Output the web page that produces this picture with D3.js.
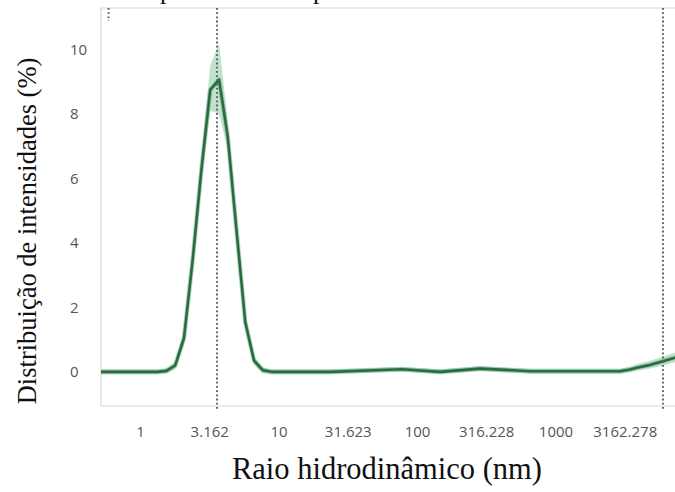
<!DOCTYPE html>
<html>
<head>
<meta charset="utf-8">
<script src="https://cdn.jsdelivr.net/npm/d3@7"></script>
<style>
  html, body { margin: 0; padding: 0; background: #fff; }
  svg { display: block; }
</style>
</head>
<body>
<svg id="chart" width="675" height="492"></svg>
<script>
// ---- data ----
const radius    = [0.52, 1.0, 1.344, 1.553, 1.797, 2.078, 2.404, 2.780, 3.215, 3.72, 4.301, 4.975, 5.753, 6.655, 7.696, 8.904, 23.5, 77.9, 146.6, 285, 655, 2090, 2923, 3451, 3875, 4654, 5873, 7295, 9000];
const intensity = [0, 0, 0, 0.03, 0.2, 1.05, 3.5, 6.3, 8.75, 9.07, 7.3, 4.4, 1.55, 0.35, 0.05, 0, 0, 0.08, 0, 0.1, 0.02, 0.02, 0.02, 0.07, 0.13, 0.2, 0.32, 0.44, 0.55];
const bandLow   = [-0.08, -0.08, -0.08, -0.06, 0.08, 0.85, 3.2, 5.9, 8.1, 8.0, 6.9, 4.1, 1.35, 0.22, -0.05, -0.08, -0.08, 0.0, -0.08, 0.02, -0.06, -0.06, -0.06, -0.02, 0.03, 0.09, 0.19, 0.3, 0.4];
const bandHigh  = [0.08, 0.08, 0.08, 0.12, 0.32, 1.25, 3.8, 6.7, 9.5, 10.2, 7.8, 4.7, 1.75, 0.48, 0.15, 0.08, 0.08, 0.16, 0.08, 0.18, 0.1, 0.1, 0.1, 0.16, 0.24, 0.33, 0.46, 0.6, 0.72];
const xTickValues = [1, 3.16228, 10, 31.6228, 100, 316.228, 1000, 3162.278];
const xTickLabels = ["1", "3.162", "10", "31.623", "100", "316.228", "1000", "3162.278"];
const yTickValues = [0, 2, 4, 6, 8, 10];
const markerRadii = [3.6, 5970];     // full-height dotted markers
const shortMarkerRadius = 0.593;      // short dotted marker at the top-left
const xTitle = "Raio hidrodinâmico (nm)";
const yTitle = "Distribuição de intensidades (%)";

// ---- layout ----
const svg = d3.select("#chart");
const pLeft = 101, pTop = 8, pBottom = 406, rightRange = 694;

const x = d3.scaleLog().domain([0.523, 10000]).range([pLeft, rightRange]);
const y = d3.scaleLinear().domain([-1.06, 11.29]).range([pBottom, pTop]);

// clip
svg.append("defs").append("clipPath").attr("id", "plotClip")
  .append("rect").attr("x", pLeft).attr("y", pTop).attr("width", 700).attr("height", pBottom - pTop);

// partially visible text from the page above (only descenders show)
svg.append("text").attr("x", 160).attr("y", -1.5)
  .attr("font-family", "'Liberation Serif', 'Times New Roman', serif").attr("font-size", 26)
  .attr("fill", "#111").text("p");
svg.append("text").attr("x", 313).attr("y", -1.5)
  .attr("font-family", "'Liberation Serif', 'Times New Roman', serif").attr("font-size", 26)
  .attr("fill", "#111").text("p");

// plot frame (left, top, bottom)
const frame = svg.append("g").attr("stroke", "#d6d6d6").attr("stroke-width", 1.2);
frame.append("line").attr("x1", pLeft).attr("x2", pLeft).attr("y1", pTop).attr("y2", pBottom);
frame.append("line").attr("x1", pLeft).attr("x2", 675).attr("y1", pTop).attr("y2", pTop);
frame.append("line").attr("x1", pLeft).attr("x2", 675).attr("y1", pBottom).attr("y2", pBottom);

const data = radius.map((r, i) => ({ r, v: intensity[i], lo: bandLow[i], hi: bandHigh[i] }));

const plot = svg.append("g").attr("clip-path", "url(#plotClip)");

// confidence band
plot.append("path").datum(data)
  .attr("fill", "#8fcaa2").attr("fill-opacity", 0.55)
  .attr("d", d3.area().x(d => x(d.r)).y0(d => y(d.lo)).y1(d => y(d.hi)));

// soft halo under the line
plot.append("path").datum(data)
  .attr("fill", "none").attr("stroke", "#6fb488").attr("stroke-opacity", 0.55)
  .attr("stroke-width", 4.5).attr("stroke-linejoin", "round")
  .attr("d", d3.line().x(d => x(d.r)).y(d => y(d.v)));

// main line
plot.append("path").datum(data)
  .attr("fill", "none").attr("stroke", "#2b6a43")
  .attr("stroke-width", 2.6).attr("stroke-linejoin", "round")
  .attr("d", d3.line().x(d => x(d.r)).y(d => y(d.v)));

// dotted markers
svg.append("g").selectAll("line").data(markerRadii).join("line")
  .attr("x1", d => x(d)).attr("x2", d => x(d))
  .attr("y1", pTop).attr("y2", pBottom + 5)
  .attr("stroke", "#4f6b63").attr("stroke-width", 2)
  .attr("stroke-dasharray", "1.8,2.4");
svg.append("line")
  .attr("x1", x(shortMarkerRadius)).attr("x2", x(shortMarkerRadius))
  .attr("y1", pTop).attr("y2", 21)
  .attr("stroke", "#4f6b63").attr("stroke-width", 2)
  .attr("stroke-dasharray", "1.8,2.4");

// x axis
const xAxis = d3.axisBottom(x)
  .tickValues(xTickValues)
  .tickFormat((d, i) => xTickLabels[i])
  .tickSize(0).tickPadding(20);
const gx = svg.append("g").attr("transform", `translate(0,${pBottom})`).call(xAxis);
gx.select(".domain").remove();
gx.selectAll("text")
  .attr("font-family", "'Open Sans', 'Noto Sans', sans-serif")
  .attr("font-size", 15).attr("fill", "#555");

// y axis
const yAxis = d3.axisLeft(y).tickValues(yTickValues).tickSize(0).tickFormat(d3.format("d"));
const gy = svg.append("g").attr("transform", `translate(${pLeft},0)`).call(yAxis);
gy.select(".domain").remove();
gy.selectAll("text")
  .attr("x", -31).attr("text-anchor", "start")
  .attr("font-family", "'Open Sans', 'Noto Sans', sans-serif")
  .attr("font-size", 15).attr("fill", "#555");

// axis titles
svg.append("text")
  .attr("x", 387).attr("y", 479)
  .attr("text-anchor", "middle")
  .attr("font-family", "'Liberation Serif', 'Times New Roman', serif")
  .attr("font-size", 30.5).attr("fill", "#111")
  .text(xTitle);

svg.append("text")
  .attr("transform", "translate(36,231) rotate(-90)")
  .attr("text-anchor", "middle")
  .attr("font-family", "'Liberation Serif', 'Times New Roman', serif")
  .attr("font-size", 26.5).attr("fill", "#111")
  .text(yTitle);
</script>
</body>
</html>
